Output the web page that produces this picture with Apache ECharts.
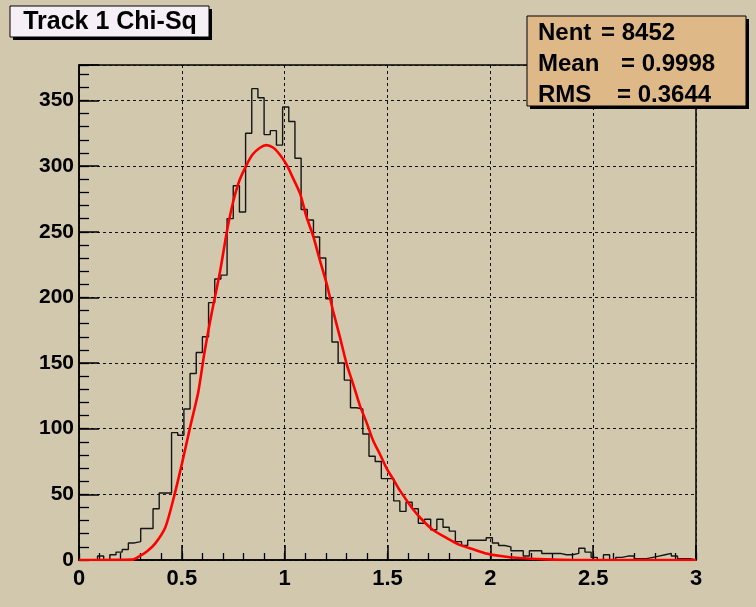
<!DOCTYPE html>
<html><head><meta charset="utf-8">
<script src="https://cdn.jsdelivr.net/npm/echarts@6/dist/echarts.min.js"></script>
<style>html,body{margin:0;padding:0;background:#d1c8ae}#c{width:756px;height:607px}</style>
</head><body><div id="c"></div>
<script>
// ---- data ----
const titleText = 'Track 1 Chi-Sq';
const statLabels = ['Nent', 'Mean', 'RMS'];
const statValues = ['= 8452', '= 0.9998', '= 0.3644'];
const xMin = 0, xMax = 3, binWidth = 0.03;
const yMax = 377;
const xTickLabels = ['0', '0.5', '1', '1.5', '2', '2.5', '3'];
const yTickLabels = ['0', '50', '100', '150', '200', '250', '300', '350'];
const binCounts = [
  0, 0, 0, 3, 0, 4, 6, 8, 13, 14,
  24, 24, 39, 51, 51, 97, 95, 115, 142, 158,
  170, 196, 214, 217, 260, 285, 265, 325, 359, 352,
  324, 327, 316, 345, 334, 306, 267, 259, 246, 230,
  199, 166, 150, 137, 116, 115, 96, 79, 75, 62,
  62, 45, 37, 44, 39, 28, 31, 23, 31, 25,
  22, 14, 11, 15, 15, 15, 17, 13, 11, 10,
  7, 7, 3, 7, 7, 5, 5, 5, 4, 4,
  5, 9, 6, 2, 0, 4, 0, 2, 3, 3,
  1, 1, 2, 3, 4, 5, 3, 1, 1, 0
];
const fitX = [0, 0.26, 0.29, 0.33, 0.37, 0.42, 0.46, 0.50, 0.54, 0.58, 0.61, 0.645, 0.685, 0.72, 0.75, 0.78, 0.815, 0.845, 0.88, 0.91, 0.945, 0.975, 1.01, 1.04, 1.075, 1.105, 1.14, 1.17, 1.205, 1.235, 1.27, 1.30, 1.335, 1.365, 1.40, 1.43, 1.465, 1.495, 1.53, 1.56, 1.595, 1.625, 1.66, 1.72, 1.79, 1.85, 1.92, 1.98, 2.05, 2.14, 2.27, 2.4, 3.0];
const fitY = [0, 0.3, 2.5, 6.5, 12.5, 25, 47, 73, 101, 128, 158, 188, 219, 251, 273, 289, 301, 309, 314, 316, 314, 309, 301, 291, 279, 262, 246, 229, 210, 190, 169, 150, 133, 118, 104, 91, 80, 70, 61, 53, 45, 38.5, 32, 23, 16.5, 11.5, 8, 5, 3, 1.5, 0.5, 0, 0];

// ---- build ----
const histData = binCounts.map((v, i) => [xMin + i * binWidth, v]);
histData.push([xMax, binCounts[binCounts.length - 1]]);
const fitData = fitX.map((x, i) => [x, fitY[i]]);

const BG = '#d1c8ae';
const FONT = '"Liberation Sans", Arial, Helvetica, sans-serif';
const labelStyle = { color: '#000', fontSize: 22, fontWeight: 'bold', fontFamily: FONT };

const chart = echarts.init(document.getElementById('c'), null, { renderer: 'canvas' });
const txt = (text, x, y, size, align) => ({
  type: 'text', z: 100,
  style: { text, x, y, fill: '#000', font: 'bold ' + size + 'px ' + FONT,
    align: align, textAlign: align, verticalAlign: 'middle', textVerticalAlign: 'middle' }
});
const box = (x, y, w, h, fill) => ([
  { type: 'rect', z: 98, shape: { x: x + 3, y: y + 3, width: w, height: h }, style: { fill: '#000' } },
  { type: 'rect', z: 99, shape: { x, y, width: w, height: h }, style: { fill, stroke: '#000', lineWidth: 1 } }
]);

chart.setOption({
  backgroundColor: BG,
  animation: false,
  grid: { left: 79, right: 60, top: 65, bottom: 47, show: true, borderColor: '#000', borderWidth: 1.5, backgroundColor: 'transparent' },
  xAxis: [
    { type: 'value', position: 'bottom', min: xMin, max: xMax, interval: 0.5,
      axisLine: { show: true, lineStyle: { color: '#000', width: 1.5 } },
      axisTick: { show: true, inside: true, length: 15, lineStyle: { color: '#000', width: 1.5 } },
      axisLabel: Object.assign({ margin: 8, formatter: (v) => xTickLabels[Math.round(v / 0.5)] || '' }, labelStyle),
      splitLine: { show: true, lineStyle: { color: '#111', width: 1, type: [3, 3] } } },
    { type: 'value', position: 'bottom', min: xMin, max: xMax, interval: 0.1,
      axisLine: { show: false }, axisTick: { show: true, inside: true, length: 7, lineStyle: { color: '#000', width: 1.3 } },
      axisLabel: { show: false }, splitLine: { show: false } }
  ],
  yAxis: [
    { type: 'value', position: 'left', min: 0, max: yMax, interval: 50,
      axisLine: { show: true, lineStyle: { color: '#000', width: 1.5 } },
      axisTick: { show: true, inside: true, length: 20, lineStyle: { color: '#000', width: 1.5 } },
      axisLabel: Object.assign({ margin: 5, formatter: (v) => (v % 50 === 0 ? (yTickLabels[v / 50] || '') : '') }, labelStyle, { fontSize: 21 }),
      splitLine: { show: true, lineStyle: { color: '#111', width: 1, type: [3, 3] } } },
    { type: 'value', position: 'left', min: 0, max: yMax, interval: 10,
      axisLine: { show: false }, axisTick: { show: true, inside: true, length: 10, lineStyle: { color: '#000', width: 1.3 } },
      axisLabel: { show: false }, splitLine: { show: false } }
  ],
  series: [
    { type: 'line', xAxisIndex: 0, yAxisIndex: 0, data: histData, step: 'end', symbol: 'none',
      lineStyle: { color: '#151515', width: 1.4 }, z: 2, silent: true },
    { type: 'line', xAxisIndex: 0, yAxisIndex: 0, data: fitData, symbol: 'none', smooth: 0.25,
      lineStyle: { color: '#ff0000', width: 2.6 }, z: 3, silent: true }
  ],
  graphic: [].concat(
    box(10, 6, 199, 31, '#f5f0f5'),
    [txt(titleText, 110, 22, 25, 'center')],
    box(527, 16, 219, 90, '#deb887'),
    [txt(statLabels[0], 538, 33, 24, 'left'), txt(statValues[0], 601, 33, 24, 'left'),
     txt(statLabels[1], 538, 64, 24, 'left'), txt(statValues[1], 621, 64, 24, 'left'),
     txt(statLabels[2], 538, 95, 24, 'left'), txt(statValues[2], 617, 95, 24, 'left')]
  )
});
</script></body></html>
